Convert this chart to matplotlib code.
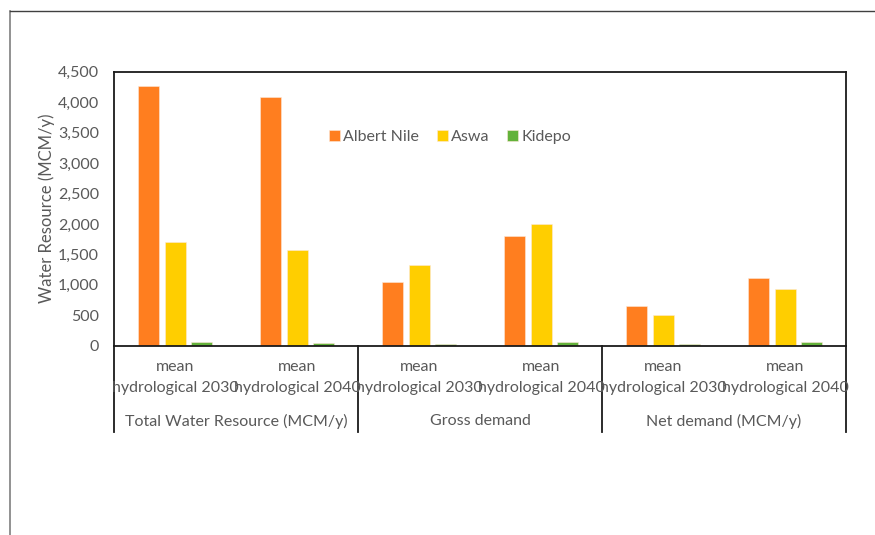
import matplotlib
matplotlib.use("Agg")
import matplotlib.pyplot as plt
from matplotlib.lines import Line2D
import numpy as np

plt.rcParams['font.family'] = ['Lato', 'DejaVu Sans']

# Data (MCM/y)
series = ["Albert Nile", "Aswa", "Kidepo"]
colors = ["#FF7E1F", "#FFCE00", "#63B23A"]
groups = ["Total Water Resource (MCM/y)", "Gross demand", "Net demand (MCM/y)"]
scenarios = ["mean\nhydrological 2030", "mean\nhydrological 2040"]

albert_nile = [4265, 4080, 1045, 1805, 652, 1115]
aswa = [1700, 1568, 1320, 1998, 508, 932]
kidepo = [56, 44, 28, 66, 28, 66]
values = [albert_nile, aswa, kidepo]

yticks = [0, 500, 1000, 1500, 2000, 2500, 3000, 3500, 4000, 4500]

W, H = 875, 535
fig = plt.figure(figsize=(W / 100, H / 100), dpi=100)

# chart-area border (left and top edges)
fig.add_artist(Line2D([9.5 / W, 9.5 / W], [0, 1 - 10.5 / H], color="#7f7f7f", lw=1.2, transform=fig.transFigure))
fig.add_artist(Line2D([9.5 / W, 1], [1 - 10.5 / H, 1 - 10.5 / H], color="#404040", lw=1.0, transform=fig.transFigure))

left, right, top, bottom = 114.3, 846.0, 71.7, 345.7
ax = fig.add_axes([left / W, 1 - bottom / H, (right - left) / W, (bottom - top) / H])

n = len(albert_nile)
x = np.arange(n)
pitch = 0.219
bw = 0.172
for i, (name, vals, c) in enumerate(zip(series, values, colors)):
    ax.bar(x + (i - 1) * pitch, vals, width=bw, color=c, label=name,
           edgecolor="#fde8d8", linewidth=0.4, zorder=2)

ax.set_xlim(-0.5, n - 0.5)
ax.set_ylim(0, 4500)
ax.set_yticks(yticks)
ax.set_yticklabels([f"{v:,}" for v in yticks])
ax.tick_params(axis="y", length=0, pad=11, labelsize=11.5, labelcolor="#595959")
ax.set_xticks([])
for s in ax.spines.values():
    s.set_color("#1a1a1a")
    s.set_linewidth(1.3)

ax.set_ylabel("Water Resource (MCM/y)", fontsize=12, color="#595959", labelpad=2)

# multi-level category labels
ph = bottom - top
xt = ax.get_xaxis_transform()
for k in range(n):
    line1, line2 = scenarios[k % 2].split("\n")
    ax.text(k, -(367 - bottom) / ph, line1, transform=xt,
            ha="center", va="center", fontsize=11.5, color="#595959")
    ax.text(k, -(388 - bottom) / ph, line2, transform=xt,
            ha="center", va="center", fontsize=11.5, color="#595959")
for g, name in enumerate(groups):
    ax.text(2 * g + 0.5, -(421 - bottom) / ph, name, transform=xt,
            ha="center", va="center", fontsize=11.5, color="#595959")
for b in [-0.5, 1.5, 3.5, 5.5]:
    ax.plot([b, b], [0, -(432 - bottom) / ph], transform=xt, color="#1a1a1a",
            lw=1.3, clip_on=False)

ax.legend(loc="center", bbox_to_anchor=((450 - left) / (right - left), (bottom - 137) / ph),
          ncol=3, frameon=False, fontsize=11.5, labelcolor="#595959",
          handlelength=0.7, handleheight=0.7, handletextpad=0.2, columnspacing=1.1)

fig.savefig("out.png", dpi=100)
